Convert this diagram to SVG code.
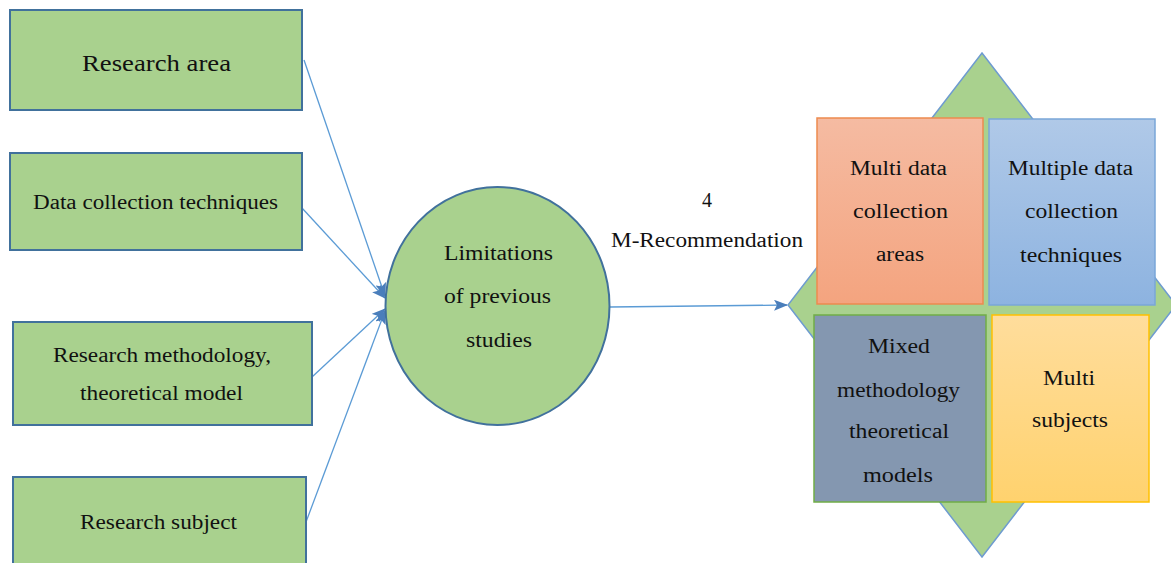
<svg xmlns="http://www.w3.org/2000/svg" width="1171" height="563" viewBox="0 0 1171 563" font-family="'Liberation Serif', 'DejaVu Serif', serif">
<style>
.box{fill:#a9d18e;stroke:#41719c;stroke-width:2}
.t{font-size:20px;fill:#111;text-anchor:middle}
.con{stroke:#5b9bd5;stroke-width:1.3;fill:none}
</style>
<defs>
<marker id="ah" markerWidth="14" markerHeight="11" refX="13" refY="5.5" orient="auto" markerUnits="userSpaceOnUse">
<path d="M0,0 L14,5.5 L0,11 L3,5.5 Z" fill="#4a7ebb"/>
</marker>
<linearGradient id="gOr" x1="0" y1="0" x2="0" y2="1"><stop offset="0" stop-color="#f5bba2"/><stop offset="1" stop-color="#f4a47f"/></linearGradient>
<linearGradient id="gBl" x1="0" y1="0" x2="0" y2="1"><stop offset="0" stop-color="#b0c9e8"/><stop offset="1" stop-color="#8db3e0"/></linearGradient>
<linearGradient id="gYe" x1="0" y1="0" x2="0" y2="1"><stop offset="0" stop-color="#ffdd9c"/><stop offset="1" stop-color="#ffd26e"/></linearGradient>
</defs>

<g id="connectors">
<line class="con" x1="304" y1="60" x2="385" y2="296" marker-end="url(#ah)"/>
<line class="con" x1="302" y1="208" x2="385" y2="298" marker-end="url(#ah)"/>
<line class="con" x1="312" y1="377" x2="385" y2="309" marker-end="url(#ah)"/>
<line class="con" x1="306" y1="522" x2="385" y2="311" marker-end="url(#ah)"/>
<line class="con" x1="610" y1="307" x2="787" y2="305" marker-end="url(#ah)"/>
<text class="t" x="707" y="207">4</text>
<text class="t" x="707" y="247" textLength="192" lengthAdjust="spacingAndGlyphs">M-Recommendation</text>
</g>

<g id="n-research-area">
<rect class="box" x="10" y="10" width="292" height="100"/>
<text class="t" x="156.5" y="71" style="font-size:24px" textLength="149" lengthAdjust="spacingAndGlyphs">Research area</text>
</g>
<g id="n-data-collection">
<rect class="box" x="10" y="153" width="292" height="97"/>
<text class="t" x="155.5" y="209" textLength="245" lengthAdjust="spacingAndGlyphs">Data collection techniques</text>
</g>
<g id="n-methodology">
<rect class="box" x="13" y="322" width="299" height="103"/>
<text class="t" x="162" y="362" textLength="218" lengthAdjust="spacingAndGlyphs">Research methodology,</text>
<text class="t" x="161.5" y="400" textLength="163" lengthAdjust="spacingAndGlyphs">theoretical model</text>
</g>
<g id="n-subject">
<rect class="box" x="13" y="477" width="293" height="100"/>
<text class="t" x="158.5" y="529" textLength="157" lengthAdjust="spacingAndGlyphs">Research subject</text>
</g>

<g id="n-limitations">
<ellipse class="box" cx="497.5" cy="306" rx="112" ry="119"/>
<text class="t" x="498.5" y="260" textLength="109" lengthAdjust="spacingAndGlyphs">Limitations</text>
<text class="t" x="497.5" y="303" textLength="107" lengthAdjust="spacingAndGlyphs">of previous</text>
<text class="t" x="499" y="347" textLength="66" lengthAdjust="spacingAndGlyphs">studies</text>
</g>

<g id="n-recommendations">
<polygon points="982,53 1176,305 982,557 788,305" fill="#a9d18e" stroke="#6e9bd0" stroke-width="1.5"/>
<g id="n-multi-areas">
<rect x="817" y="118" width="166" height="186" fill="url(#gOr)" stroke="#ed8a4f" stroke-width="1.5"/>
<text class="t" x="898.5" y="175" textLength="97" lengthAdjust="spacingAndGlyphs">Multi data</text>
<text class="t" x="900.5" y="218" textLength="95" lengthAdjust="spacingAndGlyphs">collection</text>
<text class="t" x="900" y="261" textLength="48" lengthAdjust="spacingAndGlyphs">areas</text>
</g>
<g id="n-multi-techniques">
<rect x="989" y="119" width="166" height="186" fill="url(#gBl)" stroke="#7aa6d8" stroke-width="1.5"/>
<text class="t" x="1070.5" y="175" textLength="125" lengthAdjust="spacingAndGlyphs">Multiple data</text>
<text class="t" x="1071.5" y="218" textLength="93" lengthAdjust="spacingAndGlyphs">collection</text>
<text class="t" x="1071" y="262" textLength="102" lengthAdjust="spacingAndGlyphs">techniques</text>
</g>
<g id="n-mixed-methodology">
<rect x="814" y="315" width="172" height="187" fill="#8497b0" stroke="#70ad47" stroke-width="1.5"/>
<text class="t" x="899" y="353" textLength="62" lengthAdjust="spacingAndGlyphs">Mixed</text>
<text class="t" x="898.5" y="397" textLength="123" lengthAdjust="spacingAndGlyphs">methodology</text>
<text class="t" x="899" y="438" textLength="100" lengthAdjust="spacingAndGlyphs">theoretical</text>
<text class="t" x="898" y="482" textLength="70" lengthAdjust="spacingAndGlyphs">models</text>
</g>
<g id="n-multi-subjects">
<rect x="992" y="315" width="157" height="187" fill="url(#gYe)" stroke="#ffc000" stroke-width="1.5"/>
<text class="t" x="1069" y="385" textLength="52" lengthAdjust="spacingAndGlyphs">Multi</text>
<text class="t" x="1070" y="427" textLength="76" lengthAdjust="spacingAndGlyphs">subjects</text>
</g>
</g>
</svg>
